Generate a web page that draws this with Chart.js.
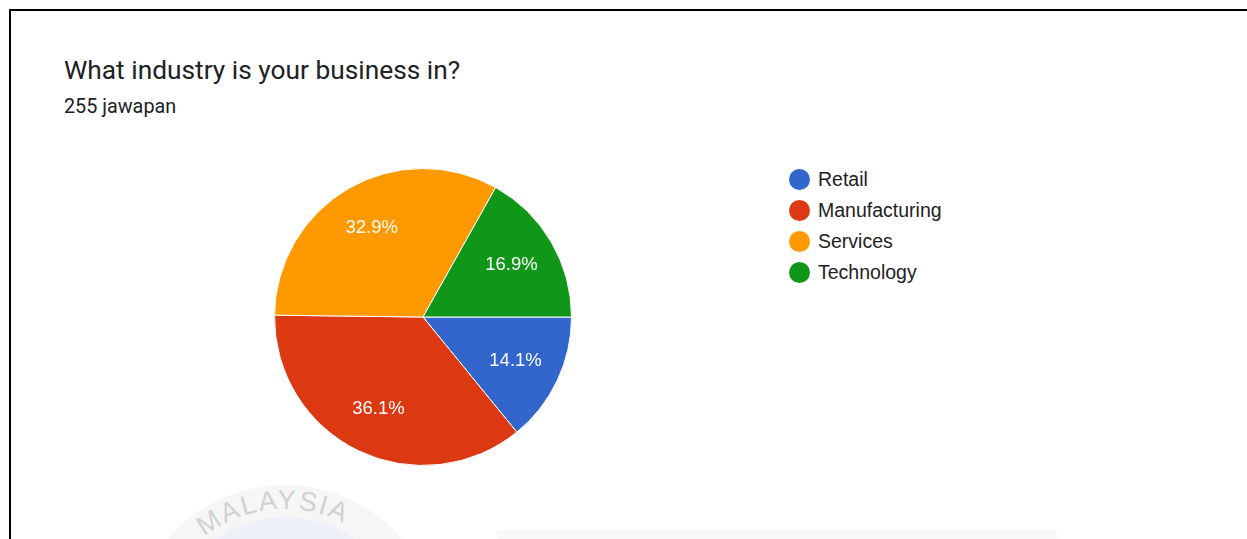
<!DOCTYPE html>
<html>
<head>
<meta charset="utf-8">
<title>What industry is your business in?</title>
<script src="https://cdn.jsdelivr.net/npm/chart.js@4.4.0/dist/chart.umd.min.js"></script>
<style>
  html, body {
    margin: 0;
    padding: 0;
    background: #fff;
    width: 1247px;
    height: 539px;
    overflow: hidden;
  }
  .frame {
    position: absolute;
    left: 9px;
    top: 9px;
    right: 0;
    bottom: 0;
    border-top: 2px solid #000;
    border-left: 2px solid #000;
  }
  .title {
    position: absolute;
    left: 64px;
    top: 57px;
    font: 26.3px/1 Roboto, sans-serif;
    color: #202124;
    white-space: nowrap;
  }
  .subtitle {
    position: absolute;
    left: 64px;
    top: 97px;
    font: 19.8px/1 Roboto, sans-serif;
    color: #202124;
    white-space: nowrap;
  }
  .pie-box {
    position: absolute;
    left: 274px;
    top: 168px;
    width: 298px;
    height: 298px;
  }
  .legend {
    position: absolute;
    left: 789px;
    top: 164px;
    margin: 0;
    padding: 0;
    list-style: none;
    font: 19.5px/31px "Liberation Sans", Arial, sans-serif;
    color: #222;
  }
  .legend li {
    display: flex;
    align-items: center;
    height: 31px;
    white-space: nowrap;
  }
  .legend .dot {
    width: 21px;
    height: 21px;
    border-radius: 50%;
    margin-right: 8px;
  }
  /* faint stamp and panel at the bottom of the page */
  .stamp {
    position: absolute;
    left: 130px;
    top: 485px;
    width: 310px;
    height: 310px;
    border-radius: 50%;
    background: #f6f6f6;
  }
  .stamp-inner {
    position: absolute;
    left: 32px;
    top: 32px;
    width: 246px;
    height: 246px;
    border-radius: 50%;
    background: #edf0f6;
  }
  .stamp svg {
    position: absolute;
    left: 0;
    top: 0;
  }
  .panel {
    position: absolute;
    left: 497px;
    top: 530px;
    width: 560px;
    height: 9px;
    background: #f8f8f8;
  }
</style>
</head>
<body>
<div class="frame"></div>

<div class="stamp">
  <div class="stamp-inner"></div>
  <svg width="310" height="310" viewBox="0 0 310 310">
    <defs>
      <path id="stamp-arc" d="M 24 155 A 131 131 0 0 1 286 155"></path>
    </defs>
    <text font-family="Liberation Sans, Arial, sans-serif" font-size="27" fill="#d2d2d2" letter-spacing="2" text-anchor="middle">
      <textPath href="#stamp-arc" startOffset="47%">MALAYSIA</textPath>
    </text>
  </svg>
</div>
<div class="panel"></div>

<div class="title">What industry is your business in?</div>
<div class="subtitle">255 jawapan</div>

<div class="pie-box"><canvas id="chart-industry" width="298" height="298"></canvas></div>
<ul class="legend" id="legend-industry"></ul>

<script>
// answers per industry (255 in total)
const categories = ["Retail", "Manufacturing", "Services", "Technology"];
const responses = [36, 92, 84, 43];
const sliceColors = ["#3366cc", "#dc3912", "#ff9900", "#109618"];


// percentage text inside each slice
const sliceLabels = {
  id: "sliceLabels",
  afterDatasetsDraw(chart) {
    const ctx = chart.ctx;
    const meta = chart.getDatasetMeta(0);
    const values = chart.data.datasets[0].data;
    const total = values.reduce((a, b) => a + b, 0);

    ctx.save();
    ctx.fillStyle = "#fff";
    ctx.font = '18.5px "Liberation Sans", Arial, sans-serif';
    ctx.textAlign = "center";
    ctx.textBaseline = "middle";

    meta.data.forEach((arc, i) => {
      const p = arc.getProps(["x", "y", "startAngle", "endAngle", "outerRadius"], true);
      const mid = (p.startAngle + p.endAngle) / 2;
      const r = p.outerRadius * 0.69;
      const text = (values[i] / total * 100).toFixed(1) + "%";
      ctx.fillText(text, p.x + Math.cos(mid) * r, p.y + Math.sin(mid) * r);
    });

    ctx.restore();
  }
};


function buildLegend() {
  const list = document.getElementById("legend-industry");
  categories.forEach((name, i) => {
    const item = document.createElement("li");
    const dot = document.createElement("span");
    dot.className = "dot";
    dot.style.background = sliceColors[i];
    item.appendChild(dot);
    item.appendChild(document.createTextNode(name));
    list.appendChild(item);
  });
}


new Chart(document.getElementById("chart-industry"), {
  type: "pie",
  data: {
    labels: categories,
    datasets: [{
      data: responses,
      backgroundColor: sliceColors,
      borderColor: "#fff",
      borderWidth: 1
    }]
  },
  options: {
    responsive: false,
    animation: false,
    rotation: 90,
    layout: { padding: 0 },
    events: [],
    plugins: {
      legend: { display: false },
      tooltip: { enabled: false }
    }
  },
  plugins: [sliceLabels]
});

buildLegend();
</script>
</body>
</html>
